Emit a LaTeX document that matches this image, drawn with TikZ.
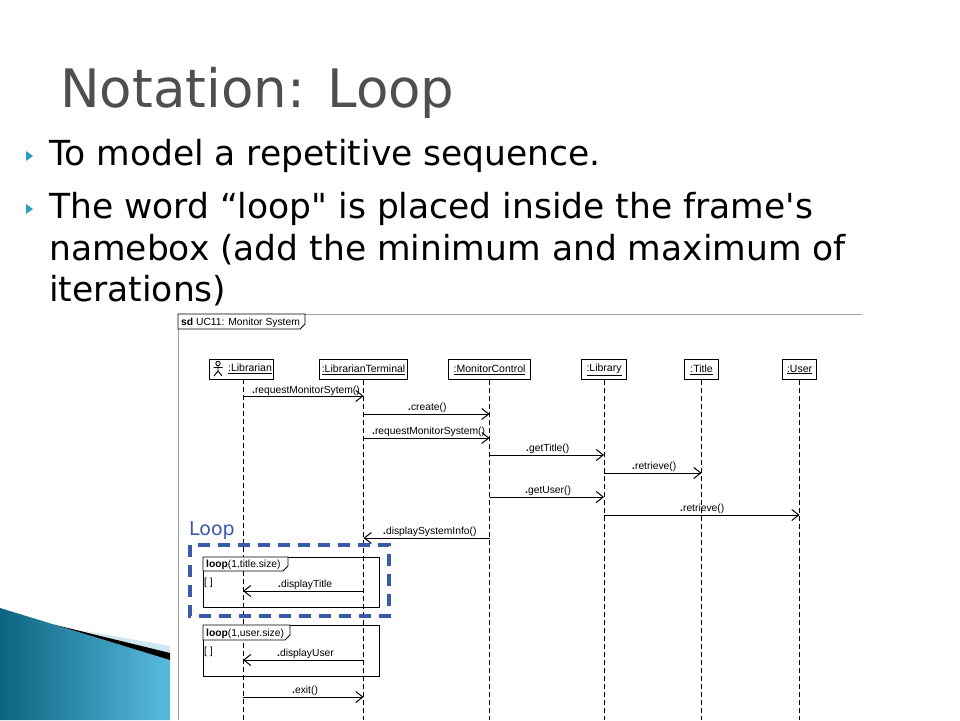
\documentclass[tikz,border=0pt]{standalone}
\usepackage{fontspec}
\setmainfont{DejaVu Sans}[Ligatures=TeXOff]
\newfontfamily\dia{Liberation Sans}
\usetikzlibrary{arrows.meta}
\definecolor{titlegray}{HTML}{4F4F4F}
\definecolor{bulletteal}{HTML}{2A9EC0}
\definecolor{tealdark}{HTML}{0C6480}
\definecolor{teallight}{HTML}{58BBDE}
\definecolor{tealpale}{HTML}{CFE7F0}
\definecolor{loopblue}{HTML}{3B5BAA}
\definecolor{framegray}{HTML}{A0A0A0}
\tikzset{
  headbox/.style={draw=black, line width=1.1pt, fill=white, minimum height=20pt, inner sep=0pt, anchor=north west, font=\dia\fontsize{10.5}{12}\selectfont},
  lifeline/.style={line width=0.8pt, dash pattern=on 5pt off 3pt},
  msg/.style={line width=0.8pt, -{Straight Barb[length=7pt,width=11pt,line width=1pt]}},
  mlabel/.style={anchor=base west, inner sep=0pt, font=\dia\fontsize{10.3}{12}\selectfont},
  bodytext/.style={anchor=base west, inner sep=0pt, font=\fontsize{34.5}{40}\selectfont},
  bullettri/.style={fill=bulletteal},
  fragbox/.style={draw=black, line width=0.9pt},
  fraglabel/.style={draw=black, line width=0.9pt, fill=white},
  hilite/.style={draw=loopblue, line width=3.5pt, dash pattern=on 12pt off 8pt},
}
\begin{document}
\begin{tikzpicture}[x=1pt,y=-1pt]
\useasboundingbox (0,0) rectangle (960,720);
\fill[white] (0,0) rectangle (960,720);

% title
\node[anchor=base west, inner sep=0pt, text=titlegray, font=\fontsize{53}{60}\selectfont] (title) at (60,107) {Notation: Loop};

% bullets
\fill[bullettri] (26,151) -- (33,156) -- (26,161) -- cycle;
\node[bodytext] (b1) at (49,165) {To model a repetitive sequence.};
\fill[bullettri] (26,204) -- (33,209) -- (26,214) -- cycle;
\node[bodytext] (b2) at (49,218) {The word “loop" is placed inside the frame's};
\node[bodytext] (b3) at (49,260) {namebox (add the minimum and maximum of};
\node[bodytext] (b4) at (49,301) {iterations)};

% bottom-left decoration
\shade[left color=tealdark, right color=teallight] (0,608) -- (170,660) -- (170,720) -- (0,720) -- cycle;
\fill[tealpale] (80,630) -- (170,646) -- (170,654) -- cycle;
\fill[black] (55,624.8) -- (170,653) -- (170,660) -- cycle;

% frame
\draw[framegray, line width=1pt] (862,314) -- (178,314) -- (178,720);
\draw[fraglabel] (178,314) -- (305,314) -- (305,324) -- (300,329) -- (178,329) -- cycle;
\node[anchor=base west, inner sep=0pt, font=\dia\fontsize{10.3}{12}\selectfont] (sdlabel) at (181,325) {\textbf{sd} UC11: Monitor System};

% lifeline heads
\node[headbox, minimum width=64pt] (hA) at (209,359) {};
\node[inner sep=0pt, font=\dia\fontsize{10.5}{12}\selectfont] (tA) at (250,369) {\underline{:Librarian}};
\draw[line width=0.9pt] (218,363.5) circle (2.2pt);
\draw[line width=0.9pt] (218,366) -- (218,371) (213.5,367.5) -- (222.5,367.5) (214,376) -- (218,371) -- (222,376);
\node[headbox, minimum width=88pt] (hB) at (319,359) {\underline{:LibrarianTerminal}};
\node[headbox, minimum width=82pt] (hC) at (448,359) {\underline{:MonitorControl}};
\node[headbox, minimum width=45pt] (hD) at (581,359) {\underline{:Library}};
\node[headbox, minimum width=34pt] (hE) at (684,359) {\underline{:Title}};
\node[headbox, minimum width=34pt] (hF) at (782,359) {\underline{:User}};

\coordinate (lA) at (243,379);
\coordinate (lB) at (hB.south);
\coordinate (lC) at (hC.south);
\coordinate (lD) at (hD.south);
\coordinate (lE) at (hE.south);
\coordinate (lF) at (hF.south);
\foreach \l in {lA,lB,lC,lD,lE,lF}{
  \draw[lifeline] (\l) -- (\l |- 0,720);
}

% messages
\draw[msg] (lA |- 0,396) -- (lB |- 0,396);
\node[mlabel] (m1) at (252,393) {\textbf{.}requestMonitorSytem()};
\draw[msg] (lB |- 0,414) -- (lC |- 0,414);
\node[mlabel] (m2) at (408,410) {\textbf{.}create()};
\draw[msg] (lB |- 0,438) -- (lC |- 0,438);
\node[mlabel] (m3) at (372,434) {\textbf{.}requestMonitorSystem()};
\draw[msg] (lC |- 0,455) -- (lD |- 0,455);
\node[mlabel] (m4) at (526,451) {\textbf{.}getTitle()};
\draw[msg] (lD |- 0,473) -- (lE |- 0,473);
\node[mlabel] (m5) at (632,469) {\textbf{.}retrieve()};
\draw[msg] (lC |- 0,497) -- (lD |- 0,497);
\node[mlabel] (m6) at (525,493) {\textbf{.}getUser()};
\draw[msg] (lD |- 0,515) -- (lF |- 0,515);
\node[mlabel] (m7) at (680,511) {\textbf{.}retrieve()};
\draw[msg] (lC |- 0,538) -- (lB |- 0,538);
\node[mlabel] (m8) at (383,534) {\textbf{.}displaySystemInfo()};

% loop 1
\draw[fragbox] (203,557) rectangle (379,607);
\draw[fraglabel] (203,557) -- (288,557) -- (288,566) -- (283,571) -- (203,571) -- cycle;
\node[mlabel] (lp1) at (206,567) {\textbf{loop}(1,title.size)};
\node[mlabel] (g1) at (204,585) {[ ]};
\draw[msg] (lB |- 0,591) -- (lA |- 0,591);
\node[mlabel] (m9) at (278,587) {\textbf{.}displayTitle};

% loop 2
\draw[fragbox] (203,625) rectangle (379,676);
\draw[fraglabel] (203,625) -- (290,625) -- (290,635) -- (285,640) -- (203,640) -- cycle;
\node[mlabel] (lp2) at (206,636) {\textbf{loop}(1,user.size)};
\node[mlabel] (g2) at (204,654) {[ ]};
\draw[msg] (lB |- 0,660) -- (lA |- 0,660);
\node[mlabel] (m10) at (277,656) {\textbf{.}displayUser};
\draw[msg] (lA |- 0,697) -- (lB |- 0,697);
\node[mlabel] (m11) at (292,693) {\textbf{.}exit()};

% highlight
\draw[hilite] (190,545) rectangle (389,616);
\node[anchor=base west, inner sep=0pt, text=loopblue, font=\fontsize{19}{21}\selectfont] (looplabel) at (189,535) {Loop};
\end{tikzpicture}
\end{document}
